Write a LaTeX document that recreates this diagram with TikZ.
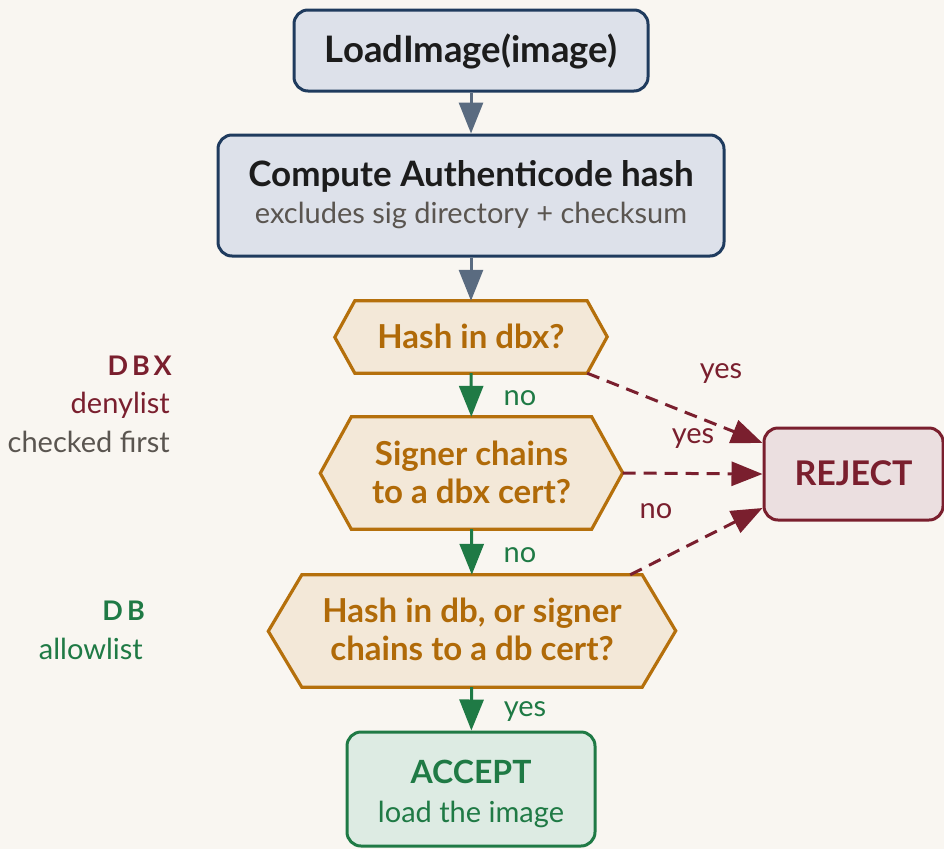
\documentclass[tikz,border=0pt]{standalone}
\usepackage{fontspec}
\setmainfont{Lato}
\usetikzlibrary{arrows.meta}
\definecolor{bg}{HTML}{F9F6F1}
\definecolor{navy}{HTML}{1F3B5E}
\definecolor{boxfill}{HTML}{DDE1EA}
\definecolor{steel}{HTML}{5A6B80}
\definecolor{ink}{HTML}{1C1C1C}
\definecolor{subgray}{HTML}{5A5550}
\definecolor{amber}{HTML}{B5700C}
\definecolor{amberfill}{HTML}{F3E8D8}
\definecolor{amtext}{HTML}{B06A08}
\definecolor{green}{HTML}{1F7A45}
\definecolor{greenfill}{HTML}{DDEBE3}
\definecolor{wine}{HTML}{7A1F2E}
\definecolor{winefill}{HTML}{EBDFE0}
\newcommand{\fs}[1]{\fontsize{#1}{#1}\selectfont}
\tikzset{
  procbox/.style={draw=navy, fill=boxfill, line width=3pt, rounded corners=14pt, inner sep=0pt},
  acceptbox/.style={draw=green, fill=greenfill, line width=3pt, rounded corners=14pt, inner sep=0pt},
  rejectbox/.style={draw=wine, fill=winefill, line width=3pt, rounded corners=14pt, inner sep=0pt},
  hexcore/.style={inner sep=0pt},
  hexline/.style={draw=amber, fill=amberfill, line width=3.2pt, line join=miter},
  txt/.style={anchor=base, inner sep=0pt},
  title/.style={txt, font=\fs{35}\bfseries, text=ink},
  sub/.style={txt, font=\fs{29}, text=subgray},
  qtext/.style={txt, font=\fs{33}\bfseries, text=amtext},
  lbl/.style={txt, font=\fs{29}},
  side/.style={anchor=base east, inner sep=0pt, font=\fs{29}},
  tip/.style={-{Triangle[length=31pt,width=24pt]}},
  flow/.style={tip, draw=steel, line width=3pt},
  okflow/.style={tip, draw=green, line width=3pt},
  badflow/.style={tip, draw=wine, line width=3pt, dash pattern=on 13pt off 8pt},
}
\begin{document}
\begin{tikzpicture}[x=1pt,y=-1pt]
\fill[bg] (0,0) rectangle (944,849);
\useasboundingbox (0,0) rectangle (944,849);

% boxes
\node[procbox, minimum width=354pt, minimum height=81pt] (load) at (471,50.5) {};
\node[title, font=\fs{36.5}\bfseries] (loadt) at (471,62) {LoadImage(image)};

\node[procbox, minimum width=506pt, minimum height=121pt] (comp) at (471,195.5) {};
\node[title] (compt) at (471,186) {Compute Authenticode hash};
\node[sub] (comps) at (471,223) {excludes sig directory + checksum};

% hexagons
\node[hexcore, minimum width=232pt, minimum height=72pt] (h1) at (471,337) {};
\draw[hexline] (h1.north west) -- (h1.north east) -- ++(20,36) -- (h1.south east)
  -- (h1.south west) -- ++(-20,-36) -- cycle;
\node[qtext] (h1t) at (471,348) {Hash in dbx?};

\node[hexcore, minimum width=240pt, minimum height=112pt] (h2) at (471.5,473) {};
\draw[hexline] (h2.north west) -- (h2.north east) -- ++(31,56) -- (h2.south east)
  -- (h2.south west) -- ++(-31,-56) -- cycle;
\node[qtext] (h2a) at (471.5,465) {Signer chains};
\node[qtext] (h2b) at (471.5,503) {to a dbx cert?};

\node[hexcore, minimum width=340pt, minimum height=112pt] (h3) at (472,631) {};
\draw[hexline] (h3.north west) -- (h3.north east) -- ++(33.5,56) -- (h3.south east)
  -- (h3.south west) -- ++(-33.5,-56) -- cycle;
\node[qtext] (h3a) at (472,622) {Hash in db, or signer};
\node[qtext] (h3b) at (472,660) {chains to a db cert?};

\node[acceptbox, minimum width=248pt, minimum height=114pt] (acc) at (471,789) {};
\node[title, text=green, font=\fs{32}\bfseries] (acct) at (471,783) {ACCEPT};
\node[sub, text=green] (accs) at (471,822) {load the image};

\node[rejectbox, minimum width=179pt, minimum height=92pt] (rej) at (853.5,474) {};
\node[title, text=wine, font=\fs{34}\bfseries] (rejt) at (853.5,485.5) {REJECT};

% side notes
\node[side, text=wine, font=\fs{27}\bfseries\addfontfeature{LetterSpace=15}] (dbx) at (172,375) {DBX};
\node[side, text=wine] (deny) at (170,413) {denylist};
\node[side, text=subgray] (chk) at (170,452) {checked first};
\node[side, text=green, font=\fs{27}\bfseries\addfontfeature{LetterSpace=15}] (db) at (145,620) {DB};
\node[side, text=green] (allow) at (143,659) {allowlist};

% flow arrows
\draw[flow] (load) -- (comp);
\draw[flow] (comp) -- (h1);
\draw[okflow] (h1) -- (h2);
\draw[okflow] (h2) -- (h3);
\draw[okflow] (h3) -- (acc);

\draw[badflow] (h1.south east) -- ([yshift=31pt]rej.west);
\draw[badflow] ([xshift=31pt]h2.east) -- (rej.west);
\draw[badflow] ([xshift=-12pt]h3.north east) -- ([yshift=-34pt]rej.west);

% labels
\node[lbl, text=green] (n1) at (520,405) {no};
\node[lbl, text=green] (n2) at (520,562) {no};
\node[lbl, text=green] (y3) at (525,716) {yes};
\node[lbl, text=wine] (y1) at (721,378) {yes};
\node[lbl, text=wine] (y2) at (693,443) {yes};
\node[lbl, text=wine] (n3) at (656,518) {no};
\end{tikzpicture}
\end{document}
